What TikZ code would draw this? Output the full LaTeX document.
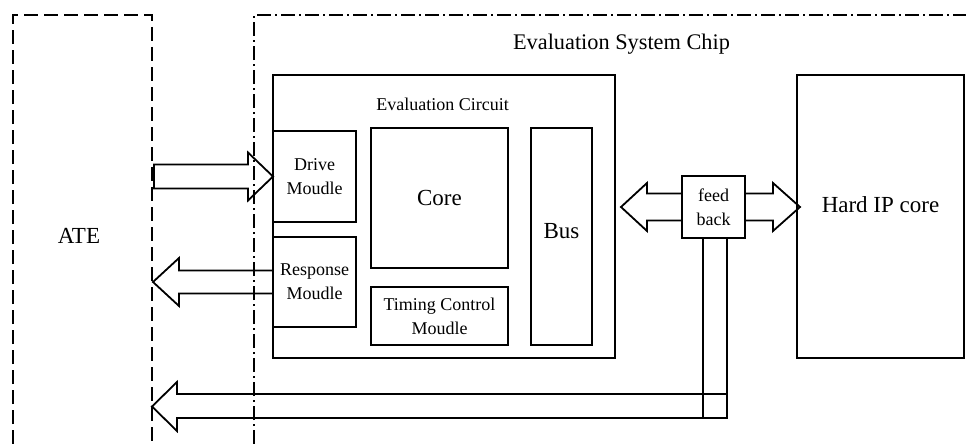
\documentclass[tikz,border=0pt]{standalone}
\usepackage{fontspec}
\setmainfont{Liberation Serif}
\usetikzlibrary{calc}

\begin{document}
\begin{tikzpicture}[x=1pt,y=-1pt,
    box/.style={draw,line width=1.8pt,inner sep=0pt,outer sep=0pt},
    hollow/.style={draw,line width=1.8pt,line join=miter},
    big/.style={font=\fontsize{23}{27}\selectfont},
    mid/.style={font=\fontsize{18}{24}\selectfont,align=center}]
    \useasboundingbox (0,0) rectangle (966,444);

    % ATE side (dashed, open at the bottom)
    \draw[line width=1.8pt,dash pattern=on 14pt off 6pt] (13,444) -- (13,15) -- (152,15) -- (152,444);
    \node[big] (ate) at (79,236) {ATE};

    % chip boundary (dash-dot)
    \draw[line width=1.5pt,dash pattern=on 14pt off 4pt on 2pt off 4pt] (254,444) -- (254,15) -- (966,15);
    \node[font=\fontsize{22.3}{26}\selectfont,anchor=base] (chip) at (621.5,49) {Evaluation System Chip};

    % evaluation circuit and its blocks
    \node[box,minimum width=342,minimum height=283] (circuit) at (444,216.5) {};
    \node[mid,anchor=base] (circuitname) at (442.5,110) {Evaluation Circuit};
    \node[box,mid,minimum width=83,minimum height=91] (drive) at (314.5,176.5) {Drive\\Moudle};
    \node[box,mid,minimum width=83,minimum height=90] (response) at (314.5,282) {Response\\Moudle};
    \node[box,big,minimum width=137,minimum height=140] (core) at (439.5,198) {Core};
    \node[box,mid,minimum width=137,minimum height=58] (timing) at (439.5,316) {Timing Control\\Moudle};
    \node[box,minimum width=61,minimum height=217,label={[big,yshift=5pt]center:Bus}] (bus) at (561.5,236.5) {};

    % feedback block and hard IP
    \node[box,mid,minimum width=63,minimum height=62] (feedback) at (713.5,207) {feed\\back};
    \node[box,minimum width=167,minimum height=283,label={[big,yshift=12pt]center:Hard IP core}] (hardip) at (880.5,216.5) {};

    % block arrows ATE <-> circuit
    \draw[hollow] (drive.west) -- ++(-25,-24) -- ++(0,12) -- ++(-94,0) -- ++(0,24) -- ++(94,0) -- ++(0,12) -- cycle;
    \draw[hollow] ([yshift=11.5pt]response.west) -- ++(-94,0) -- ++(0,-12.5) -- ++(-26,24) -- ++(26,24) -- ++(0,-12.5) -- ++(94,0);

    % block arrows out of the feedback block
    \draw[hollow] ([yshift=13.5pt]feedback.west) -- ++(-35,0) -- ++(0,-10.5) -- ++(-26,24) -- ++(26,24) -- ++(0,-10.5) -- ++(35,0);
    \draw[hollow] ([yshift=13.5pt]feedback.east) -- ++(28,0) -- ++(0,-10.5) -- ++(27,24) -- ++(-27,24) -- ++(0,-10.5) -- ++(-28,0);
    \draw[hollow] ([xshift=-10.5pt]feedback.south) -- ++(0,180);
    \draw[hollow] ([xshift=13.5pt]feedback.south) -- ++(0,180) -- ++(-550,0) -- ++(0,13) -- ++(-25,-24.5) -- ++(25,-24.5) -- ++(0,12) -- ++(550,0);
\end{tikzpicture}
\end{document}
